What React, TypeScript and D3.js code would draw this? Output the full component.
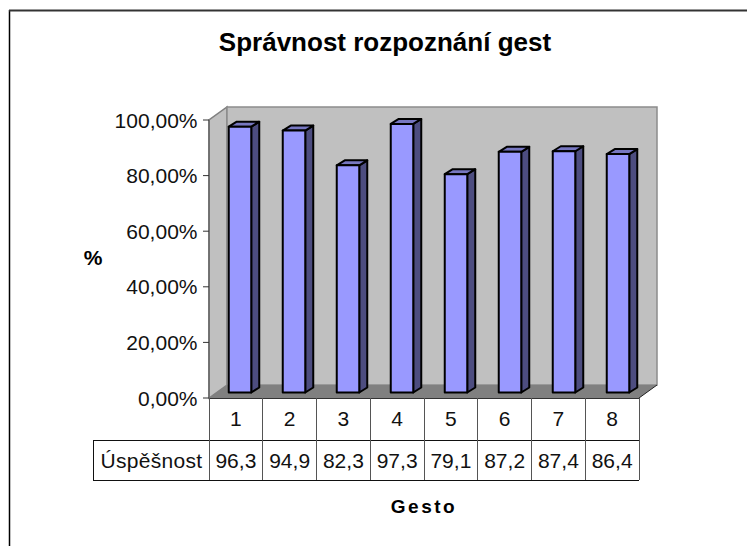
import React from "react";
import * as d3 from "d3";

const categories = ["1", "2", "3", "4", "5", "6", "7", "8"];
const values = [96.3, 94.9, 82.3, 97.3, 79.1, 87.2, 87.4, 86.4];
const yTicks = [0, 20, 40, 60, 80, 100];
const rowLabel = "Úspěšnost";
const title = "Správnost rozpoznání gest";
const xTitle = "Gesto";
const yTitle = "%";

const FONT = "'Liberation Sans', Arial, sans-serif";
const x0 = 209, x1 = 639, y0 = 398, yTop = 120;
const dx = 18, dy = -13;

const y = d3.scaleLinear().domain([0, 100]).range([y0, yTop]);
const barY = d3.scaleLinear().domain([0, 100]).range([392.5, 116.5]);
const band = d3.scaleBand<string>().domain(categories).range([x0, x1]);
const barBand = d3.scaleBand<string>().domain(categories).range([213, 645]);

const poly = (pts: [number, number][]) => pts.map((p) => p.join(",")).join(" ");
const fmt = (v: number) => v.toFixed(2).replace(".", ",") + "%";

export default function App() {
  const barW = 22.5, bdx = 8, bdy = -5;
  return (
    <svg width={747} height={546} style={{ position: "absolute", left: 0, top: 0, background: "#fff" }} fontFamily={FONT}>
      <line x1={9.5} y1={10} x2={9.5} y2={546} stroke="#000" strokeWidth={1.5} />
      <line x1={9} y1={10.5} x2={747} y2={10.5} stroke="#333" strokeWidth={2} />

      {/* walls */}
      <polygon points={poly([[x0, y0], [x0, yTop], [x0 + dx, yTop + dy], [x0 + dx, y0 + dy]])} fill="#c0c0c0" stroke="#808080" strokeWidth={1.5} />
      <polygon points={poly([[x0 + dx, yTop + dy], [x1 + dx, yTop + dy], [x1 + dx, y0 + dy], [x0 + dx, y0 + dy]])} fill="#c0c0c0" stroke="#8c8c8c" strokeWidth={1.5} />
      <polygon points={poly([[x0, y0], [x0 + dx, y0 + dy], [x1 + dx, y0 + dy], [x1, y0]])} fill="#808080" />
      <line x1={x1} y1={y0} x2={x1 + dx} y2={y0 + dy} stroke="#222" strokeWidth={1} />

      {/* bars */}
      {categories.map((c, i) => {
        const cx = barBand(c)! + barBand.bandwidth() / 2;
        const l = cx - barW / 2, r = cx + barW / 2;
        const t = barY(values[i]), b = barY(0);
        return (
          <g key={c} stroke="#000" strokeWidth={2} strokeLinejoin="round">
            <polygon points={poly([[r, t], [r + bdx, t + bdy], [r + bdx, b + bdy], [r, b]])} fill="#4d4d80" />
            <polygon points={poly([[l, t], [l + bdx, t + bdy], [r + bdx, t + bdy], [r, t]])} fill="#7777c0" />
            <rect x={l} y={t} width={barW} height={b - t} fill="#9999ff" />
          </g>
        );
      })}

      {/* y axis */}
      <line x1={x0} y1={yTop} x2={x0} y2={y0} stroke="#666" strokeWidth={1.5} />
      {yTicks.map((t) => (
        <g key={t}>
          <line x1={x0 - 6} x2={x0} y1={y(t)} y2={y(t)} stroke="#333" />
          <text x={x0 - 11.5} y={y(t) + 7.5} textAnchor="end" fontSize={21} fill="#111">{fmt(t)}</text>
        </g>
      ))}

      {/* data table */}
      <g stroke="#333" strokeWidth={1} shapeRendering="crispEdges">
        <line x1={x0} x2={x1} y1={y0} y2={y0} />
        <line x1={93} x2={x1} y1={440.5} y2={440.5} stroke="#111" />
        <line x1={93} x2={x1} y1={480} y2={480} stroke="#111" />
        <line x1={93.5} x2={93.5} y1={440.5} y2={480} stroke="#111" />
        {[...categories.map((c) => band(c)!), x1].map((xv, i) => (
          <line key={i} x1={xv} x2={xv} y1={y0} y2={480} stroke="#555" />
        ))}
      </g>
      <text x={151.5} y={468} textAnchor="middle" fontSize={21} letterSpacing={0.3} fill="#111">{rowLabel}</text>
      {categories.map((c, i) => {
        const cx = band(c)! + band.bandwidth() / 2;
        return (
          <g key={c} fontSize={21} fill="#111" textAnchor="middle">
            <text x={cx} y={426}>{c}</text>
            <text x={cx} y={468}>{values[i].toFixed(1).replace(".", ",")}</text>
          </g>
        );
      })}

      <text x={385} y={51} textAnchor="middle" fontSize={26} fontWeight="bold" fill="#000">{title}</text>
      <text x={424} y={513} textAnchor="middle" fontSize={19} fontWeight="bold" letterSpacing={2.5} fill="#000">{xTitle}</text>
      <text x={93} y={265} textAnchor="middle" fontSize={21} fontWeight="bold" fill="#000">{yTitle}</text>
    </svg>
  );
}
